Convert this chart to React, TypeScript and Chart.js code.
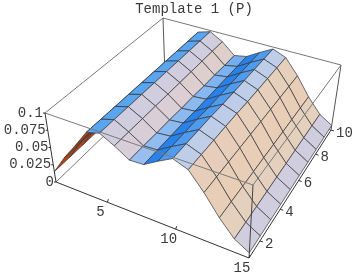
import React, { useEffect, useRef } from "react";
import { Chart, registerables } from "chart.js";

Chart.register(...registerables);

const title = "Template 1 (P)";
const xTickValues = [5, 10, 15];
const yTickValues = [2, 4, 6, 8, 10];
const zTickValues = [0, 0.025, 0.05, 0.075, 0.1];
const zTickLabels = ["0", "0.025", "0.05", "0.075", "0.1"];

// z values for x = 1..15, each listing y = 1..10
const zAtX1 = [0.015, 0.015, 0.015, 0.015, 0.015, 0.015, 0.015, 0.015, 0.015, 0.015];
const zAtX2 = [0.042, 0.042, 0.042, 0.042, 0.042, 0.042, 0.042, 0.042, 0.042, 0.042];
const zAtX3 = [0.066, 0.066, 0.067, 0.067, 0.067, 0.067, 0.067, 0.067, 0.067, 0.067];
const zAtX4 = [0.092, 0.092, 0.092, 0.092, 0.092, 0.092, 0.092, 0.092, 0.092, 0.092];
const zAtX5 = [0.098, 0.098, 0.098, 0.098, 0.098, 0.098, 0.098, 0.098, 0.098, 0.098];
const zAtX6 = [0.087, 0.087, 0.087, 0.087, 0.087, 0.087, 0.087, 0.087, 0.087, 0.087];
const zAtX7 = [0.074, 0.074, 0.073, 0.073, 0.072, 0.072, 0.071, 0.071, 0.07, 0.07];
const zAtX8 = [0.075, 0.075, 0.075, 0.075, 0.074, 0.074, 0.074, 0.074, 0.074, 0.074];
const zAtX9 = [0.087, 0.087, 0.087, 0.087, 0.086, 0.086, 0.086, 0.086, 0.086, 0.086];
const zAtX10 = [0.098, 0.098, 0.098, 0.098, 0.097, 0.097, 0.097, 0.097, 0.097, 0.097];
const zAtX11 = [0.09, 0.09, 0.09, 0.09, 0.09, 0.089, 0.089, 0.089, 0.089, 0.089];
const zAtX12 = [0.066, 0.066, 0.066, 0.066, 0.066, 0.066, 0.066, 0.066, 0.066, 0.066];
const zAtX13 = [0.039, 0.039, 0.039, 0.039, 0.039, 0.039, 0.039, 0.039, 0.039, 0.039];
const zAtX14 = [0.018, 0.018, 0.018, 0.018, 0.018, 0.018, 0.018, 0.018, 0.018, 0.018];
const zAtX15 = [0.007, 0.007, 0.007, 0.007, 0.007, 0.007, 0.007, 0.007, 0.007, 0.007];
const zRows = [zAtX1, zAtX2, zAtX3, zAtX4, zAtX5, zAtX6, zAtX7, zAtX8, zAtX9, zAtX10, zAtX11, zAtX12, zAtX13, zAtX14, zAtX15];

const X_MAX = 15;
const Y_MAX = 10;
const Z_MAX = 0.1;

// Camera: where the box corners land (order: x1y1, x15y1, x15y10, x1y10)
const baseCorners = [[56, 182], [249, 258], [331, 130], [165, 77]];
const topCorners = [[45, 113], [253, 185], [341, 65], [163, 18]];

function homography(q: number[][]) {
  const [[x0, y0], [x1, y1], [x2, y2], [x3, y3]] = q;
  const dx1 = x1 - x2, dx2 = x3 - x2, sx = x0 - x1 + x2 - x3;
  const dy1 = y1 - y2, dy2 = y3 - y2, sy = y0 - y1 + y2 - y3;
  const den = dx1 * dy2 - dx2 * dy1;
  const g = (sx * dy2 - dx2 * sy) / den;
  const h = (dx1 * sy - sx * dy1) / den;
  const a = x1 - x0 + g * x1, b = x3 - x0 + h * x3;
  const d = y1 - y0 + g * y1, e = y3 - y0 + h * y3;
  return (u: number, v: number) => {
    const w = g * u + h * v + 1;
    return [(a * u + b * v + x0) / w, (d * u + e * v + y0) / w];
  };
}
const baseMap = homography(baseCorners);
const topMap = homography(topCorners);

function project(x: number, y: number, z: number) {
  const u = (x - 1) / (X_MAX - 1);
  const v = (y - 1) / (Y_MAX - 1);
  const t = z / Z_MAX;
  const p0 = baseMap(u, v);
  const p1 = topMap(u, v);
  return { x: p0[0] + (p1[0] - p0[0]) * t, y: p0[1] + (p1[1] - p0[1]) * t };
}

// Shade by slope along x
const shadeStops: [number, number[]][] = [
  [-0.03, [234, 204, 180]],
  [-0.02, [228, 208, 190]],
  [-0.014, [218, 206, 214]],
  [-0.011, [208, 205, 222]],
  [-0.008, [190, 205, 232]],
  [0, [165, 195, 240]],
  [0.006, [90, 165, 240]],
  [0.0112, [78, 155, 240]],
  [0.0118, [40, 130, 235]],
  [0.03, [30, 115, 228]],
];
const undersideColor = "rgb(186,66,14)";

function shade(s: number) {
  if (s <= shadeStops[0][0]) return `rgb(${shadeStops[0][1].join(",")})`;
  for (let i = 1; i < shadeStops.length; i++) {
    if (s <= shadeStops[i][0]) {
      const [s0, c0] = shadeStops[i - 1];
      const [s1, c1] = shadeStops[i];
      const t = (s - s0) / (s1 - s0);
      return `rgb(${c0.map((c, k) => Math.round(c + (c1[k] - c) * t)).join(",")})`;
    }
  }
  return `rgb(${shadeStops[shadeStops.length - 1][1].join(",")})`;
}

function signedArea(p: { x: number; y: number }[]) {
  let a = 0;
  for (let i = 0; i < p.length; i++) {
    const q = p[(i + 1) % p.length];
    a += p[i].x * q.y - q.x * p[i].y;
  }
  return a;
}

function lineSet(points: { x: number; y: number }[], color: string, width = 1) {
  return {
    data: points,
    showLine: true,
    fill: false,
    borderColor: color,
    borderWidth: width,
    pointRadius: 0,
    tension: 0,
    clip: false as const,
  };
}

function buildDatasets() {
  const drawn: any[] = [];
  const backEdge = "#777";
  const frontEdge = "#7a7a7a";
  const axis = "#333";
  // back of the box
  const c = (x: number, y: number, z: number) => project(x, y, z);
  drawn.push(lineSet([c(1, 1, Z_MAX), c(1, Y_MAX, Z_MAX), c(X_MAX, Y_MAX, Z_MAX)], backEdge));
  drawn.push(lineSet([c(1, Y_MAX, 0), c(1, Y_MAX, Z_MAX)], "#555"));
  drawn.push(lineSet([c(X_MAX, Y_MAX, 0), c(X_MAX, Y_MAX, Z_MAX)], "#555"));
  drawn.push(lineSet([c(1, 1, 0), c(1, Y_MAX, 0), c(X_MAX, Y_MAX, 0)], backEdge));

  // surface, far faces first
  for (let i = 0; i < X_MAX - 1; i++) {
    for (let j = Y_MAX - 2; j >= 0; j--) {
      const x = i + 1, y = j + 1;
      const z00 = zRows[i][j], z10 = zRows[i + 1][j], z11 = zRows[i + 1][j + 1], z01 = zRows[i][j + 1];
      const pts = [c(x, y, z00), c(x + 1, y, z10), c(x + 1, y + 1, z11), c(x, y + 1, z01)];
      const slope = (z10 + z11 - z00 - z01) / 2;
      const flipped = signedArea(pts) > 0;
      drawn.push({
        data: [...pts, pts[0]],
        showLine: true,
        fill: "shape",
        backgroundColor: flipped ? undersideColor : shade(slope),
        borderColor: "rgba(55,55,60,0.72)",
        borderWidth: 1,
        pointRadius: 0,
        tension: 0,
        clip: false as const,
      });
    }
  }

  // front of the box, over the surface
  drawn.push(lineSet([c(1, 1, Z_MAX), c(X_MAX, 1, Z_MAX), c(X_MAX, Y_MAX, Z_MAX)], frontEdge));
  drawn.push(lineSet([c(X_MAX, 1, 0), c(X_MAX, 1, Z_MAX)], "#444"));
  drawn.push(lineSet([c(1, 1, Z_MAX), c(1, 1, 0), c(X_MAX, 1, 0), c(X_MAX, Y_MAX, 0)], axis));

  // ticks
  for (const x of xTickValues) {
    const p = c(x, 1, 0);
    drawn.push(lineSet([p, { x: p.x + 1, y: p.y - 3 }], axis));
  }
  for (const y of yTickValues) {
    const p = c(X_MAX, y, 0);
    drawn.push(lineSet([p, { x: p.x + 3, y: p.y + 1 }], axis));
  }
  for (const z of zTickValues) {
    const p = c(1, 1, z);
    drawn.push(lineSet([p, { x: p.x - 2, y: p.y }], axis));
  }
  // first in the list is painted last by Chart.js
  return drawn.reverse();
}

const tickText = {
  id: "tickText",
  afterDatasetsDraw(chart: any) {
    const { ctx, scales } = chart;
    const px = (p: { x: number; y: number }) => ({
      x: scales.x.getPixelForValue(p.x),
      y: scales.y.getPixelForValue(p.y),
    });
    ctx.save();
    ctx.font = '14px "Liberation Mono"';
    ctx.fillStyle = "#3a3a3a";
    ctx.textBaseline = "middle";
    ctx.textAlign = "right";
    zTickValues.forEach((z, i) => {
      const p = px(project(1, 1, z));
      ctx.fillText(zTickLabels[i], p.x - 2, p.y);
    });
    ctx.textAlign = "center";
    for (const x of xTickValues) {
      const p = px(project(x, 1, 0));
      ctx.fillText(String(x), p.x - 7, p.y + 10);
    }
    ctx.textAlign = "left";
    for (const y of yTickValues) {
      const p = px(project(X_MAX, y, 0));
      ctx.fillText(String(y), p.x + 5, p.y + 3);
    }
    ctx.restore();
  },
};

export default function App() {
  const ref = useRef<HTMLCanvasElement>(null);
  useEffect(() => {
    document.body.style.margin = "0";
    document.body.style.background = "#fff";
    const chart = new Chart(ref.current as HTMLCanvasElement, {
      type: "scatter",
      data: { datasets: buildDatasets() },
      options: {
        animation: false,
        responsive: false,
        events: [],
        layout: { padding: { left: 34, right: 0, top: 0, bottom: 0 } },
        scales: {
          x: { type: "linear", display: false, min: 34, max: 354 },
          y: { type: "linear", display: false, reverse: true, min: 16, max: 276 },
        },
        plugins: {
          legend: { display: false },
          tooltip: { enabled: false },
          title: {
            display: true,
            text: title,
            fullSize: false,
            color: "#3a3a3a",
            font: { family: '"Liberation Mono"', size: 14, weight: "normal", lineHeight: 1 },
            padding: { top: 2, bottom: 0 },
          },
        },
      },
      plugins: [tickText],
    } as any);
    return () => chart.destroy();
  }, []);
  return (
    <div style={{ width: 354, height: 276 }}>
      <canvas ref={ref} width={354} height={276} style={{ display: "block" }} />
    </div>
  );
}
